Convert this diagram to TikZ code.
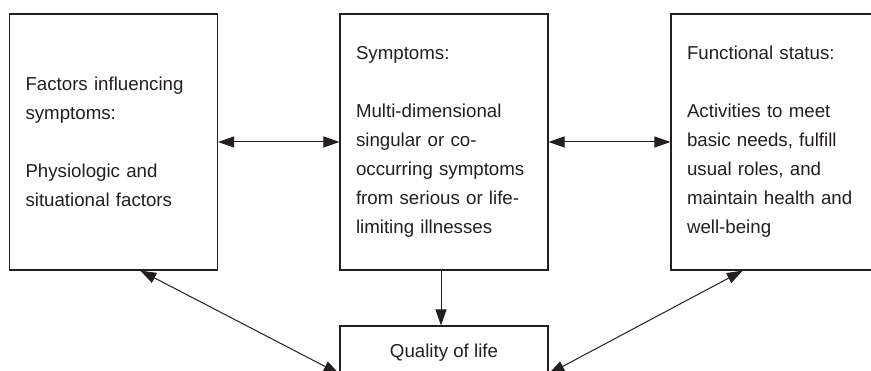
\documentclass[tikz,border=0pt]{standalone}
\usepackage{fontspec}
\setmainfont{Liberation Sans}
\usetikzlibrary{arrows.meta,calc}
\definecolor{ink}{RGB}{35,31,32}
\begin{document}
\begin{tikzpicture}[x=1pt,y=-1pt,
  box/.style={draw=ink,line width=1.1pt,rectangle,text=ink,inner ysep=0pt},
  tallbox/.style={box,text width=176pt,inner xsep=16pt,minimum height=256pt,align=left,
    font=\fontsize{18.7}{29}\selectfont},
  tip/.style={Triangle[length=16pt,width=11pt]},
  conn/.style={draw=ink,line width=1pt,{Triangle[length=16pt,width=11pt]}-{Triangle[length=16pt,width=11pt]}},
  oneway/.style={draw=ink,line width=1pt,-{Triangle[length=16pt,width=11pt]}}]
\clip (0,0) rectangle (871,371);
\fill[white] (0,0) rectangle (871,371);
\node[tallbox] (L) at (113.5,142) {Factors influencing\\symptoms:\\[29pt]Physiologic and\\situational factors};
\node[tallbox] (M) at (444,142) {Symptoms:\\[29pt]Multi-dimensional\\singular or co-\\occurring symptoms\\from serious or life-\\limiting illnesses};
\node[tallbox] (R) at (775,142) {Functional status:\\[29pt]Activities to meet\\basic needs, fulfill\\usual roles, and\\maintain health and\\well-being};
\node[box,minimum width=208pt,minimum height=54pt,font=\fontsize{18.7}{29}\selectfont] (Q) at (444,353) {Quality of life};
\coordinate (Lb) at ($(L.south west)!0.628!(L.south east)$);
\coordinate (Rb) at ($(R.south west)!0.346!(R.south east)$);
\coordinate (Ql) at ($(Q.north west)!0.88!(Q.south west)$);
\coordinate (Qr) at ($(Q.north east)!0.88!(Q.south east)$);
\coordinate (Ms) at ($(M.south)+(-3,0)$);
\coordinate (Qn) at ($(Q.north)+(-3,0)$);
\draw[conn] (L.east) -- (M.west);
\draw[conn] (M.east) -- (R.west);
\draw[oneway] (Ms) -- (Qn);
\draw[conn] (Lb) -- (Ql);
\draw[conn] (Rb) -- (Qr);
\end{tikzpicture}
\end{document}
